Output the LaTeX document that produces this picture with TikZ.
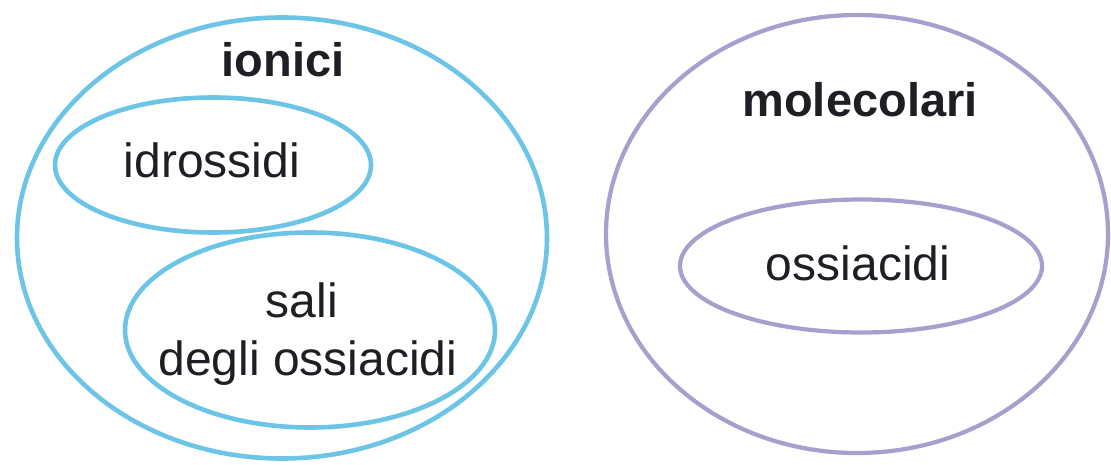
\documentclass[tikz,border=0pt]{standalone}
\usepackage{fontspec}
\setmainfont{Liberation Sans}
\usetikzlibrary{shapes.geometric}
\definecolor{ionblue}{RGB}{108,196,230}
\definecolor{molpurple}{RGB}{166,160,206}
\definecolor{txt}{RGB}{30,30,36}
\tikzset{
  setion/.style={draw=ionblue, line width=4.6pt, ellipse, inner sep=0pt},
  setmol/.style={draw=molpurple, line width=4.2pt, ellipse, inner sep=0pt},
  lab/.style={anchor=base, inner sep=0pt, text=txt, font=\fontsize{48}{56}\selectfont},
  blab/.style={anchor=base, inner sep=0pt, text=txt, font=\fontsize{47}{56}\selectfont\bfseries}
}
\begin{document}
\begin{tikzpicture}[x=1pt,y=-1pt]
\useasboundingbox[fill=white] (0,0) rectangle (1111,465);
% ionici
\node[setion, minimum width=530pt, minimum height=441pt] (ion) at (282,238) {};
\node[setion, minimum width=316pt, minimum height=135pt] (idr) at (213,165) {};
\node[setion, minimum width=370pt, minimum height=195pt] (sal) at (310,330) {};
\node[blab] (ionlab) at (283,77) {ionici};
\node[lab] (idrlab) at (212,178) {idrossidi};
\node[lab] (sallab1) at (302,317) {sali};
\node[lab] (sallab2) at (308,375) {degli ossiacidi};
% molecolari
\node[setmol, minimum width=502pt, minimum height=438pt] (mol) at (857,234) {};
\node[setmol, minimum width=362pt, minimum height=133pt] (oss) at (861,266) {};
\node[blab] (mollab) at (860,117) {molecolari};
\node[lab] (osslab) at (858,280) {ossiacidi};
\end{tikzpicture}
\end{document}
